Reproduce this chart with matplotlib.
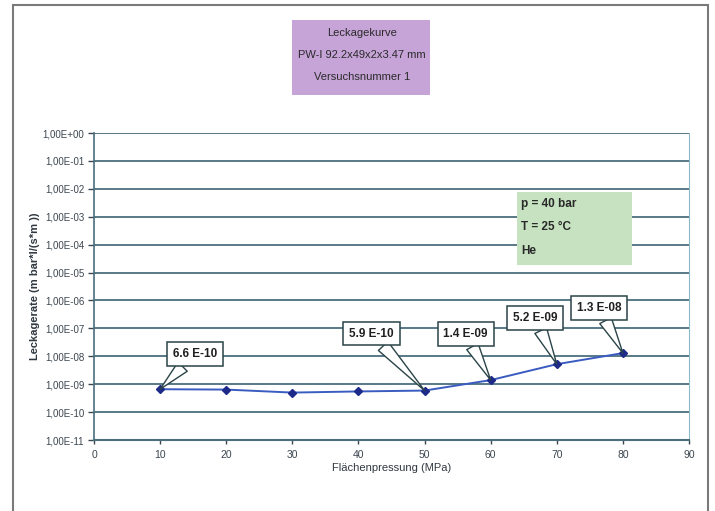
import math
import matplotlib.pyplot as plt
from matplotlib.patches import Rectangle
from matplotlib.ticker import FixedLocator, FuncFormatter

# --- Data ---
pressure_mpa = [10, 20, 30, 40, 50, 60, 70, 80]
leak_rate = [6.6e-10, 6.4e-10, 5.0e-10, 5.5e-10, 5.9e-10, 1.4e-9, 5.2e-9, 1.3e-8]

# labelled points: (index into data, label)
label_idx = [0, 4, 5, 6, 7]
label_txt = ["6.6 E-10", "5.9 E-10", "1.4 E-09", "5.2 E-09", "1.3 E-08"]
label_off = [(35, 35), (-53, 57), (-25, 46), (-22, 46), (-24, 45)]

x_ticks = list(range(0, 100, 10))
y_exps = list(range(0, -12, -1))

title_lines = ["Leckagekurve", "PW-I 92.2x49x2x3.47 mm", "Versuchsnummer 1"]
cond_lines = ["p = 40 bar", "T = 25 °C", "He"]

plt.rcParams["font.family"] = ["Liberation Sans", "DejaVu Sans"]

GRID = "#4a6e7c"
TXT = "#3c4650"


def exp_label(v, pos):
    # Excel-style scientific label with decimal comma
    e = round(math.log10(v))
    return "1,00E+00" if e >= 0 else "1,00E-%02d" % (-e)


W, H = 715, 511
fig = plt.figure(figsize=(W / 100, H / 100), dpi=100)

# outer chart frame
fig.patches.append(Rectangle((13 / W, -0.02), (708 - 13) / W, 1.02 - 5 / H,
                             transform=fig.transFigure, fill=False,
                             ec="#7a7a7a", lw=1.5))

ax = fig.add_axes([94 / W, 1 - 440 / H, (689 - 94) / W, (440 - 133) / H])
ax.set_yscale("log")
ax.set_xlim(0, 90)
ax.set_ylim(1e-11, 1)

# --- Grid lines at every decade ---
for e in y_exps:
    ax.axhline(10.0 ** e, color=GRID, lw=1.3, zorder=1)

ax.plot(pressure_mpa, leak_rate, color="#3a5cc0", lw=1.4, zorder=3)
ax.plot(pressure_mpa, leak_rate, ls="none", marker="D", ms=4.5,
        color="#1e2a8a", zorder=4)

# --- Axes styling ---
ax.spines["top"].set_visible(False)
ax.spines["right"].set_color("#8fb8c8")
ax.spines["left"].set_color(GRID)
ax.spines["bottom"].set_color(GRID)
ax.spines["left"].set_linewidth(1.2)
ax.spines["bottom"].set_linewidth(1.5)

ax.xaxis.set_major_locator(FixedLocator(x_ticks))
ax.yaxis.set_major_locator(FixedLocator([10.0 ** e for e in y_exps]))
ax.yaxis.set_minor_locator(FixedLocator([]))
ax.yaxis.set_major_formatter(FuncFormatter(exp_label))
ax.tick_params(axis="y", labelsize=7, colors=TXT, length=4, width=1, pad=3)
ax.tick_params(axis="x", labelsize=7.5, colors=TXT, length=3, width=1, pad=4)

ax.set_xlabel("Flächenpressung (MPa)", fontsize=8, color="#303840")
ax.set_ylabel("Leckagerate (m bar*l/(s*m ))", fontsize=8, color="#303840",
              fontweight="bold")
ax.xaxis.set_label_coords(0.5, -(463 - 440) / 307)
ax.yaxis.set_label_coords(-(94 - 40) / 595, 0.5)

# --- Callout labels ---
for i, txt, off in zip(label_idx, label_txt, label_off):
    ax.annotate(txt, xy=(pressure_mpa[i], leak_rate[i]), xytext=off,
                textcoords="offset pixels", ha="center", va="center",
                fontsize=8.5, fontweight="bold", color="#202020", zorder=6,
                bbox=dict(boxstyle="square,pad=0.5", fc="white",
                          ec="#2a4448", lw=1.1),
                arrowprops=dict(arrowstyle="wedge,tail_width=1.1,shrink_factor=0.5",
                                fc="white", ec="#2a4448", lw=1.0,
                                shrinkA=0, shrinkB=0))

# --- Title box ---
fig.patches.append(Rectangle((292 / W, 1 - 95 / H), (430 - 292) / W, (95 - 20) / H,
                             transform=fig.transFigure, fc="#c7a4d8", ec="none"))
for k, line in enumerate(title_lines):
    fig.text(362 / W, 1 - (33 + 22 * k) / H, line, ha="center", va="center",
             fontsize=8, color="#2a2a2a")

# --- Conditions box ---
fig.patches.append(Rectangle((517 / W, 1 - 265 / H), (632 - 517) / W, (265 - 192) / H,
                             transform=fig.transFigure, fc="#c6e2c0", ec="none",
                             zorder=5))
for k, line in enumerate(cond_lines):
    fig.text(521 / W, 1 - (204 + 23.5 * k) / H, line, ha="left", va="center",
             fontsize=8.5, fontweight="bold", color="#2a2a2a", zorder=6)

fig.savefig("out.png", dpi=100)
